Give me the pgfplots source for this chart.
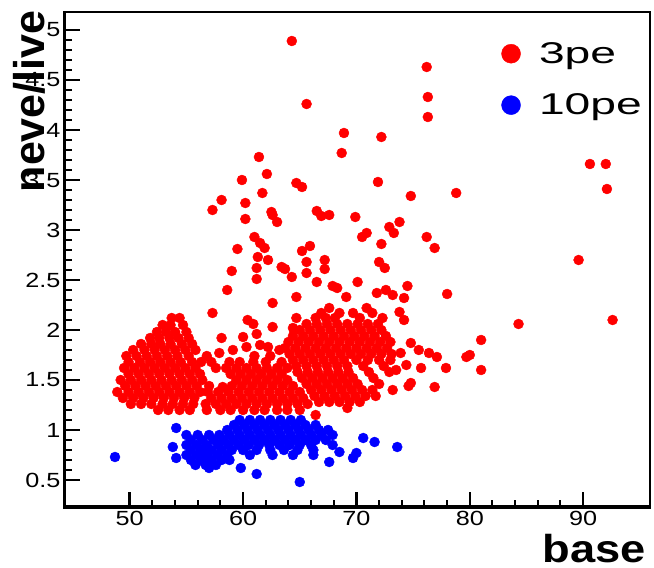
\documentclass[border=0pt]{standalone}
\usepackage{fontspec}
\setmainfont{Liberation Sans}
\newfontfamily\tickfont[FakeStretch=1.23]{Liberation Sans}
\newfontfamily\legfont[FakeStretch=1.54]{Liberation Sans}
\newfontfamily\basefont[FakeStretch=1.16]{Liberation Sans}
\usepackage{pgfplots}
\pgfplotsset{compat=1.18}

\begin{document}
\begin{tikzpicture}
\begin{axis}[
  at={(0pt,0pt)}, anchor=south west,
  width=586pt, height=496pt, scale only axis,
  xmin=44.2, xmax=95.9, ymin=0.22, ymax=5.18,
  xtick={50,60,70,80,90},
  ytick={0.5,1,1.5,2,2.5,3,3.5,4,4.5,5},
  minor x tick num=4, minor y tick num=4,
  tick align=inside, tick pos=left,
  major tick length=16pt, minor tick length=8pt,
  major tick style={line width=2.5pt, black},
  minor tick style={line width=2pt, black},
  axis line style={line width=2pt},
  ticklabel style={font=\tickfont\fontsize{20.5}{20.5}\selectfont},
  /pgf/number format/assume math mode=true,
  legend style={at={(axis description cs:0.746,0.943)}, anchor=north west,
    draw=none, fill=none, font=\legfont\fontsize{30}{30}\selectfont,
    row sep=25pt, inner xsep=0pt, inner ysep=0pt},
  legend cell align=left,
]
\addplot[only marks, mark=*, mark size=5pt, color=red, mark options={draw=red, fill=red},
  legend image code/.code={\fill[red] (9.5pt,0pt) circle (9.5pt); \path[draw=none,fill=none] (0pt,0pt) rectangle (35.5pt,0.1pt);}] coordinates {
(64.3,4.89)(76.2,4.63)(76.3,4.33)(76.3,4.13)(65.6,4.26)(68.9,3.97)(72.2,3.93)(68.7,3.77)
(61.4,3.73)(59.9,3.50)(62.1,3.56)(64.7,3.47)(65.2,3.43)(71.9,3.48)(61.7,3.37)(78.8,3.37)
(74.8,3.34)(58.1,3.30)(57.3,3.20)(60.2,3.27)(60.2,3.11)(62.5,3.18)(62.6,3.15)(63.0,3.08)
(66.5,3.19)(66.9,3.14)(67.6,3.15)(69.9,3.13)(72.9,3.03)(73.8,3.08)(73.3,2.97)(70.9,2.97)
(70.5,2.93)(72.2,2.86)(76.2,2.93)(76.9,2.82)(61.0,2.93)(61.5,2.87)(61.9,2.82)(59.5,2.81)
(65.2,2.79)(65.9,2.84)(61.3,2.73)(62.2,2.70)(65.6,2.68)(67.2,2.70)(72.0,2.68)(72.5,2.62)
(59.0,2.59)(61.2,2.62)(63.4,2.63)(63.7,2.61)(65.6,2.57)(67.2,2.61)(64.3,2.53)(61.2,2.51)
(66.5,2.48)(70.1,2.48)(67.9,2.44)(68.3,2.42)(74.5,2.44)(58.6,2.40)(69.1,2.33)(71.8,2.37)
(72.6,2.40)(73.2,2.35)(74.2,2.32)(78.0,2.36)(64.7,2.33)(62.6,2.27)(57.3,2.17)(73.8,2.18)
(74.2,2.10)(90.6,3.66)(92.0,3.66)(92.1,3.41)(89.6,2.70)(92.6,2.10)(84.3,2.06)(81.0,1.90)
(80.0,1.75)(79.7,1.73)(81.0,1.60)(77.9,1.62)(76.9,1.43)(75.7,1.62)(74.8,1.87)(75.5,1.80)
(76.4,1.77)(77.1,1.73)(74.8,1.47)(74.6,1.44)(73.5,1.60)(73.9,1.77)(74.4,1.65)
(53.7,2.12)(54.4,2.12)
(52.9,2.05)(53.6,2.05)(54.7,2.05)
(52.4,1.98)(53.2,1.98)(54.0,1.98)(55.0,1.98)
(51.8,1.92)(52.6,1.92)(53.5,1.92)(54.3,1.92)(55.2,1.92)
(51.0,1.86)(51.9,1.86)(52.7,1.86)(53.6,1.86)(54.6,1.86)(55.5,1.86)
(50.3,1.80)(51.3,1.80)(52.2,1.80)(53.1,1.80)(54.0,1.80)(54.9,1.80)(55.8,1.80)
(49.7,1.74)(50.6,1.74)(51.5,1.74)(52.4,1.74)(53.3,1.74)(54.2,1.74)(55.2,1.74)
(49.9,1.68)(50.9,1.68)(51.8,1.68)(52.7,1.68)(53.6,1.68)(54.5,1.68)(55.5,1.68)(56.3,1.68)
(49.5,1.62)(50.4,1.62)(51.3,1.62)(52.2,1.62)(53.1,1.62)(54.0,1.62)(54.9,1.62)(55.8,1.62)
(49.9,1.56)(50.8,1.56)(51.7,1.56)(52.6,1.56)(53.5,1.56)(54.4,1.56)(55.3,1.56)(56.2,1.56)
(49.2,1.50)(50.1,1.50)(51.0,1.50)(51.9,1.50)(52.8,1.50)(53.7,1.50)(54.6,1.50)(55.5,1.50)(56.4,1.50)
(49.6,1.44)(50.5,1.44)(51.4,1.44)(52.3,1.44)(53.2,1.44)(54.1,1.44)(55.0,1.44)(55.9,1.44)
(48.9,1.38)(49.9,1.38)(50.8,1.38)(51.7,1.38)(52.6,1.38)(53.5,1.38)(54.4,1.38)(55.3,1.38)(56.2,1.38)
(49.4,1.32)(50.3,1.32)(51.2,1.32)(52.1,1.32)(53.0,1.32)(53.9,1.32)(54.8,1.32)(55.7,1.32)
(50.1,1.26)(51.0,1.26)(51.9,1.26)(52.9,1.26)(53.8,1.26)(54.7,1.26)(55.6,1.26)
(52.5,1.20)(53.4,1.20)(54.4,1.20)(55.3,1.20)
(56.8,1.74)(57.9,1.77)(59.1,1.80)(60.3,1.83)(61.5,1.85)(61.0,1.74)(62.4,1.74)(63.2,1.80)
(57.2,1.68)(58.8,1.68)(59.7,1.68)(60.9,1.68)(62.0,1.68)(63.4,1.68)
(57.6,1.62)(58.5,1.62)(59.4,1.62)(60.3,1.62)(61.2,1.62)(62.1,1.62)(63.0,1.62)(63.9,1.62)
(58.9,1.56)(59.8,1.56)(60.7,1.56)(61.6,1.56)(62.5,1.56)(63.4,1.56)
(59.4,1.50)(60.3,1.50)(61.2,1.50)(62.1,1.50)(63.0,1.50)(63.9,1.50)
(57.0,1.44)(58.2,1.43)(59.0,1.44)(59.9,1.44)(60.8,1.44)(61.7,1.44)(62.6,1.44)(63.5,1.44)(64.4,1.44)
(56.9,1.38)(57.8,1.38)(58.7,1.38)(59.6,1.38)(60.5,1.38)(61.4,1.38)(62.3,1.38)(63.2,1.38)(64.1,1.38)(65.0,1.38)
(57.2,1.32)(58.1,1.32)(59.0,1.32)(59.9,1.32)(60.8,1.32)(61.7,1.32)(62.6,1.32)(63.5,1.32)(64.4,1.32)(65.3,1.32)
(56.7,1.26)(57.6,1.26)(58.5,1.26)(59.4,1.26)(60.3,1.26)(61.2,1.26)(62.1,1.26)(63.0,1.26)(63.9,1.26)(64.8,1.26)(65.7,1.26)
(56.8,1.20)(58.0,1.20)(58.9,1.20)(60.0,1.20)(61.0,1.20)(61.9,1.20)(63.0,1.20)(63.9,1.20)(65.0,1.20)
(66.4,1.15)(69.2,1.22)
(60.4,2.10)(60.9,2.06)(58.1,1.92)(60.0,1.93)(61.2,1.96)(62.6,2.03)(62.2,1.83)(64.7,2.12)(64.4,2.02)
(67.6,2.22)(70.9,2.22)
(66.9,2.17)(68.5,2.17)(69.7,2.17)(71.4,2.17)
(66.4,2.12)(67.3,2.12)(68.1,2.12)(70.3,2.12)(72.3,2.12)
(65.6,2.06)(66.5,2.06)(67.4,2.06)(68.3,2.06)(69.2,2.06)(70.1,2.06)(71.0,2.06)(71.9,2.06)
(65.0,2.00)(65.9,2.00)(66.8,2.00)(67.7,2.00)(68.6,2.00)(69.5,2.00)(70.4,2.00)(71.3,2.00)(72.2,2.00)
(64.4,1.94)(65.3,1.94)(66.2,1.94)(67.1,1.94)(68.0,1.94)(68.9,1.94)(69.8,1.94)(70.7,1.94)(71.6,1.94)(72.6,1.94)
(64.0,1.88)(64.9,1.88)(65.8,1.88)(66.7,1.88)(67.6,1.88)(68.5,1.88)(69.4,1.88)(70.3,1.88)(71.2,1.88)(72.1,1.88)(73.0,1.88)
(63.7,1.82)(64.6,1.82)(65.5,1.82)(66.4,1.82)(67.3,1.82)(68.2,1.82)(69.1,1.82)(70.0,1.82)(70.9,1.82)(71.8,1.82)(72.7,1.82)
(64.1,1.76)(65.0,1.76)(65.9,1.76)(66.8,1.76)(67.7,1.76)(68.6,1.76)(69.5,1.76)(70.4,1.76)(71.3,1.76)(72.2,1.76)(73.1,1.76)
(64.4,1.70)(65.3,1.70)(66.2,1.70)(67.1,1.70)(68.0,1.70)(68.9,1.70)(70.0,1.70)(71.0,1.70)(72.0,1.70)(73.0,1.70)
(64.7,1.64)(65.6,1.64)(66.5,1.64)(67.4,1.64)(68.3,1.64)(69.2,1.64)(70.6,1.64)(72.4,1.64)
(64.8,1.58)(65.7,1.58)(66.6,1.58)(67.5,1.58)(68.4,1.58)(69.3,1.58)(71.1,1.58)(72.9,1.58)
(65.2,1.52)(66.1,1.52)(67.0,1.52)(67.9,1.52)(68.8,1.52)(69.7,1.52)(71.5,1.52)
(65.6,1.46)(66.5,1.46)(67.4,1.46)(68.3,1.46)(69.2,1.46)(70.1,1.46)(72.0,1.46)
(66.0,1.40)(66.9,1.40)(67.8,1.40)(68.7,1.40)(69.6,1.40)(70.5,1.40)(71.4,1.40)(73.2,1.40)
(66.3,1.34)(67.2,1.34)(68.1,1.34)(69.0,1.34)(69.9,1.34)(70.8,1.34)(71.7,1.34)
(66.7,1.28)(67.6,1.28)(68.5,1.28)(69.4,1.28)(70.3,1.28)
};
\addlegendentry{3pe}
\addplot[only marks, mark=*, mark size=5pt, color=blue, mark options={draw=blue, fill=blue},
  legend image code/.code={\fill[blue] (9.5pt,0pt) circle (9.5pt); \path[draw=none,fill=none] (0pt,0pt) rectangle (35.5pt,0.1pt);}] coordinates {
(59.7,1.10)(60.6,1.10)(61.5,1.10)(62.4,1.10)(63.3,1.10)(64.2,1.10)(65.1,1.10)
(59.2,1.05)(60.1,1.05)(61.0,1.05)(61.9,1.05)(62.8,1.05)(63.7,1.05)(64.6,1.05)(65.5,1.05)(66.4,1.05)
(58.6,1.00)(59.5,1.00)(60.4,1.00)(61.3,1.00)(62.2,1.00)(63.1,1.00)(64.0,1.00)(64.9,1.00)(65.8,1.00)(66.7,1.00)(67.5,1.00)
(55.0,0.95)(56.0,0.95)(57.0,0.95)(57.9,0.95)(58.8,0.95)(59.7,0.95)(60.6,0.95)(61.5,0.95)(62.4,0.95)(63.3,0.95)(64.2,0.95)(65.1,0.95)(66.0,0.95)(66.9,0.95)(67.9,0.95)
(55.4,0.90)(56.4,0.90)(57.4,0.90)(58.3,0.90)(59.2,0.90)(60.1,0.90)(61.0,0.90)(61.9,0.90)(62.8,0.90)(63.7,0.90)(64.6,0.90)(65.5,0.90)(66.4,0.90)(67.3,0.90)
(55.0,0.85)(55.9,0.85)(56.8,0.85)(57.8,0.85)(58.7,0.85)(59.6,0.85)(60.5,0.85)(61.4,0.85)(62.3,0.85)(63.2,0.85)(64.1,0.85)(65.0,0.85)(66.0,0.85)(67.9,0.85)
(55.4,0.80)(56.3,0.80)(57.2,0.80)(58.1,0.80)(59.0,0.80)(60.0,0.80)(61.2,0.80)(62.4,0.80)(63.6,0.80)(64.8,0.80)(66.2,0.80)
(55.0,0.75)(55.9,0.75)(56.8,0.75)(57.7,0.75)(58.6,0.75)(60.6,0.75)(62.6,0.75)(64.4,0.75)(66.2,0.75)(68.5,0.78)
(55.4,0.70)(56.3,0.70)(57.2,0.70)(58.1,0.70)(58.8,0.70)
(55.8,0.65)(56.7,0.65)(57.6,0.65)(57.0,0.62)
(48.7,0.73)(54.1,1.02)(53.8,0.83)(54.1,0.72)(59.8,0.62)(61.2,0.56)(65.0,0.48)(67.6,0.68)
(70.6,0.92)(71.6,0.88)(70.0,0.77)(69.7,0.72)(73.6,0.83)
};
\addlegendentry{10pe}
\draw[line width=5pt, line cap=rect] (rel axis cs:0,1) -- (rel axis cs:0,0) -- (rel axis cs:1,0);
\end{axis}
\node[rotate=90, anchor=base east, font=\fontsize{43}{43}\selectfont\bfseries] at (-19pt,501pt) {neve/live};
\node[anchor=base east, inner sep=0pt, font=\basefont\fontsize{39}{39}\selectfont\bfseries] at (582pt,-55pt) {base};
\pgfresetboundingbox
\path[use as bounding box] (-64pt,-60pt) rectangle (590pt,508pt);
\end{tikzpicture}
\end{document}
